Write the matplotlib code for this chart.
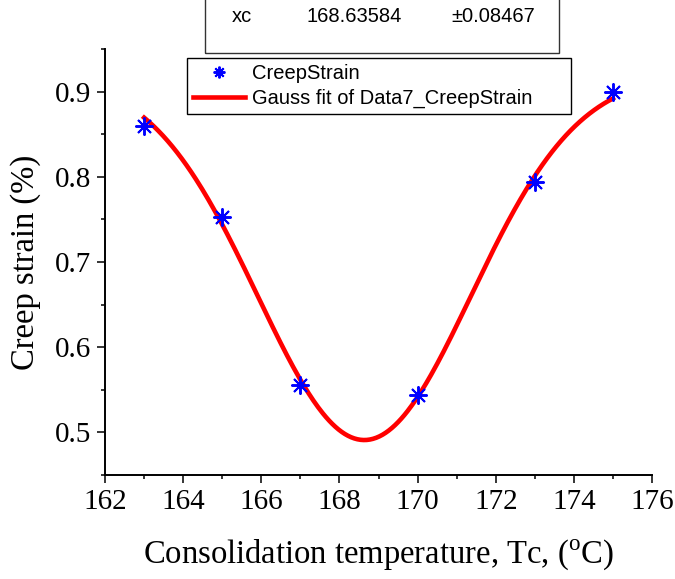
import matplotlib.pyplot as plt
import numpy as np
from matplotlib.patches import Rectangle
from matplotlib.ticker import MultipleLocator

plt.rcParams["font.family"] = "Liberation Serif"
plt.rcParams["mathtext.fontset"] = "custom"
plt.rcParams["mathtext.rm"] = "Liberation Serif"

# Creep strain measured at each consolidation temperature
temp_c = [163, 165, 167, 170, 173, 175]
creep_strain = [0.860, 0.753, 0.556, 0.544, 0.794, 0.900]

# Gauss fit parameters (Origin form)
fit_y0 = 0.92
fit_xc = 168.63584
fit_xc_err = 0.08467
fit_w = 5.45
fit_A = -2.93

fig = plt.figure(figsize=(6.75, 5.79), dpi=100)
ax = fig.add_axes([0.1556, 0.1796, 0.8104, 0.7358])

xfit = np.linspace(temp_c[0], temp_c[-1], 300)
yfit = fit_y0 + fit_A / (fit_w * np.sqrt(np.pi / 2)) * np.exp(-2 * ((xfit - fit_xc) / fit_w) ** 2)

ax.plot(temp_c, creep_strain, linestyle="none", marker=(8, 2, 0), markersize=13,
        markeredgewidth=1.4, color="#0000ff", label="CreepStrain", zorder=3)
ax.plot(xfit, yfit, color="#ff0000", linewidth=3.3,
        label="Gauss fit of Data7_CreepStrain", zorder=2)

ax.set_xlim(162, 176)
ax.set_ylim(0.45, 0.95)
ax.xaxis.set_major_locator(MultipleLocator(2))
ax.xaxis.set_minor_locator(MultipleLocator(1))
ax.yaxis.set_major_locator(MultipleLocator(0.1))
ax.yaxis.set_minor_locator(MultipleLocator(0.05))
ax.yaxis.set_major_formatter(lambda v, p: f"{v:.1f}")

for side in ["top", "right"]:
    ax.spines[side].set_visible(False)
for side in ["left", "bottom"]:
    ax.spines[side].set_linewidth(1.4)
ax.tick_params(which="major", direction="out", length=6, width=1.1, labelsize=21, pad=4)
ax.tick_params(which="minor", direction="out", length=3, width=1.1)

ax.set_xlabel(r"Consolidation temperature, Tc, ($^{\rm o}$C)", fontsize=23.5, labelpad=16)
ax.set_ylabel("Creep strain (%)", fontsize=23.5, labelpad=10)

# legend box stretched to a fixed width
leg_x0, leg_x1, leg_top = 187 / 675, 571 / 675, 1 - 58 / 579
leg = ax.legend(loc="upper left", bbox_to_anchor=(leg_x0, leg_top - 0.1, leg_x1 - leg_x0, 0.1),
                mode="expand", bbox_transform=fig.transFigure, borderaxespad=0, fancybox=False,
                edgecolor="black", framealpha=1, markerscale=0.65,
                prop={"family": "Liberation Sans", "size": 14.5},
                handlelength=2.6, handletextpad=0.35, labelspacing=0.3, borderpad=0.3)
leg.get_frame().set_linewidth(1.0)

# Fit results table, top cut off by the figure edge
fig.patches.append(Rectangle((205 / 675, 1 - 53 / 579), (559 - 205) / 675, 0.2,
                             transform=fig.transFigure, fill=False,
                             edgecolor="#333333", linewidth=1.0))
row_y = 1 - 17 / 579
fig.text(232 / 675, row_y, "xc", family="Liberation Sans", fontsize=14.5, va="center")
fig.text(307 / 675, row_y, f"{fit_xc:.5f}", family="Liberation Sans", fontsize=14.5, va="center")
fig.text(451 / 675, row_y, f"\u00b1{fit_xc_err:.5f}", family="Liberation Sans", fontsize=14.5, va="center")

fig.savefig("out.png", dpi=100)
